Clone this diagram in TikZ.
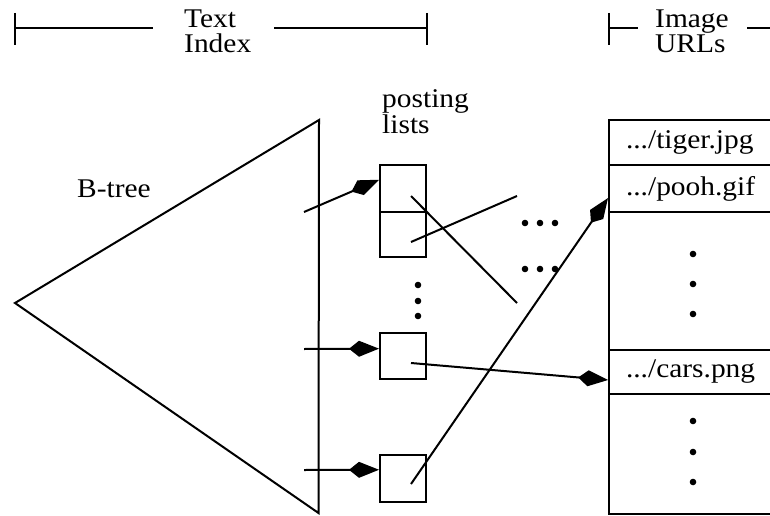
\documentclass[tikz,border=0pt]{standalone}
\usepackage{fontspec}
\setmainfont{Liberation Serif}[FakeStretch=1.09]
\usetikzlibrary{arrows.meta}
\begin{document}
\begin{tikzpicture}[x=1pt,y=-1pt,
  every node/.style={font=\fontsize{27}{25.5}\selectfont},
  ln/.style={line width=2pt},
  lbl/.style={anchor=base west,align=left,inner sep=0pt},
  pbox/.style={draw,line width=2pt,minimum width=46pt,inner sep=0pt},
  urow/.style={draw,line width=2pt,minimum height=#1,text width=134pt,inner xsep=17pt,inner ysep=0pt,align=left,anchor=north west},
  arr/.style={line width=2pt,-{Kite[length=30pt,width=16pt,inset=10pt]}},
  dot/.style={fill=black}]
\useasboundingbox (0,0) rectangle (770,516);
\clip (0,0) rectangle (770,516);

% rulers
\draw[ln] (15,13) -- (15,45);
\draw[ln] (15,28) -- (153,28);
\draw[ln] (274,28) -- (427,28);
\draw[ln] (427,13) -- (427,45);
\draw[ln] (609,13) -- (609,45);
\draw[ln] (609,28) -- (638,28);
\draw[ln] (747,28) -- (775,28);
\node[lbl] (ti) at (184,53) {Text\\Index};
\node[lbl] (iu) at (655,53) {Image\\URLs};

% B-tree
\draw[ln,line join=miter] (15,303) -- (319,120) -- (318.5,513) -- cycle;
\node[lbl] (bt) at (77,197) {B-tree};

% posting lists
\node[lbl] (pl) at (382,133) {posting\\lists};
\node[pbox,minimum height=47pt] (p1a) at (403,188.5) {};
\node[pbox,minimum height=45pt] (p1b) at (403,234.5) {};
\node[pbox,minimum height=46pt] (p2) at (403,356) {};
\node[pbox,minimum height=47pt] (p3) at (403,478.5) {};

\foreach \y in {285,301,316} \fill[dot] (418,\y) circle (3.3pt);
\foreach \x in {525,540,555} {\fill[dot] (\x,223) circle (3.3pt); \fill[dot] (\x,269) circle (3.3pt);}

% URL column
\node[urow=45pt] (tiger) at (608,119) {.../tiger.jpg};
\node[urow=47pt] (pooh) at (608,164) {.../pooh.gif};
\node[urow=138pt] (gap1) at (608,211) {};
\node[urow=44pt] (cars) at (608,349) {.../cars.png};
\node[urow=120pt] (gap2) at (608,393) {};
\foreach \y in {254,284,314,421,452,482} \fill[dot] (693,\y) circle (3.3pt);

% connectors
\coordinate (s1) at (304,212);
\coordinate (s2) at (304,349);
\coordinate (s3) at (304,470);
\draw[arr] (s1) -- (p1a.160);
\draw[arr] (s2) -- (p2.163);
\draw[arr] (s3) -- (p3.160);

\coordinate (a1) at (411,196);
\coordinate (a2) at (517,303);
\coordinate (b1) at (411,242);
\coordinate (b2) at (517,196);
\draw[ln] (a1) -- (a2);
\draw[ln] (b1) -- (b2);

\coordinate (c2) at (411,363);
\coordinate (c3) at (411,484);
\draw[arr] (c2) -- ([yshift=-8pt]cars.west);
\draw[arr] (c3) -- ([yshift=-9.5pt]pooh.west);
\end{tikzpicture}
\end{document}
